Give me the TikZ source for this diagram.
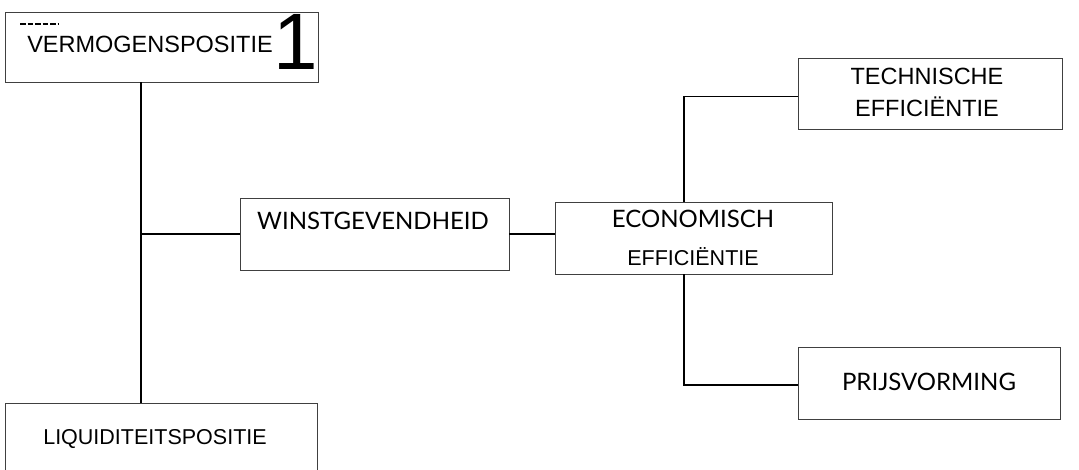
\documentclass[tikz,border=0pt]{standalone}
\usepackage{fontspec}
\setmainfont{Liberation Sans}
\newfontfamily\gillfont{Lato}
\begin{document}
\begin{tikzpicture}[x=1pt,y=-1pt,
  box/.style={draw=black!75, line width=0.8pt, inner sep=0pt, rectangle},
  conn/.style={draw=black, line width=1.8pt},
  lbl/.style={inner sep=0pt, anchor=base},
  arialA/.style={font=\fontsize{23.5}{28}\selectfont},
  arialB/.style={font=\fontsize{21.5}{26}\selectfont},
  gillA/.style={font=\gillfont\fontsize{24}{28}\selectfont}]
\clip (0,0) rectangle (1079,470);
\useasboundingbox (0,0) rectangle (1079,470);
% boxes
\node[box, minimum width=313pt, minimum height=70pt] (verm) at (161.5,47) {};
\node[box, minimum width=269pt, minimum height=72pt] (winst) at (374.5,234) {};
\node[box, minimum width=277pt, minimum height=72pt] (econ) at (693.5,238) {};
\node[box, minimum width=264pt, minimum height=71pt] (tech) at (930,93.5) {};
\node[box, minimum width=262pt, minimum height=72pt] (prijs) at (929,383) {};
\node[box, minimum width=312pt, minimum height=87pt] (liq) at (161,446.5) {};
% texts
\node[lbl, arialA] (tverm) at (150,53) {VERMOGENSPOSITIE};
\node[lbl, font=\fontsize{80}{80}\selectfont] (tone) at (296,70) {1};
\draw[line width=2.4pt, dash pattern=on 5.5pt off 2pt] (20,24) -- (58,24);
\node[lbl, gillA] (twinst) at (373,230) {WINSTGEVENDHEID};
\node[lbl, gillA] (tecon1) at (693,228) {ECONOMISCH};
\node[lbl, arialB] (tecon2) at (693,266) {EFFICIËNTIE};
\node[lbl, arialA] (ttech1) at (927,85) {TECHNISCHE};
\node[lbl, arialA] (ttech2) at (927,117) {EFFICIËNTIE};
\node[lbl, gillA] (tprijs) at (929,390) {PRIJSVORMING};
\node[lbl, arialB] (tliq) at (155,444) {LIQUIDITEITSPOSITIE};
% connectors
\coordinate (vx) at (141,0);
\coordinate (ex) at (684,0);
\draw[conn] (vx |- verm.south) -- (vx |- liq.north);
\draw[conn] (vx |- winst.west) -- (winst.west);
\draw[conn] (winst.east) -- (econ.west |- winst.east);
\draw[conn] (ex |- econ.north) |- ([yshift=-3pt]tech.west);
\draw[conn] (ex |- econ.south) |- ([yshift=-2pt]prijs.west);
\end{tikzpicture}
\end{document}
